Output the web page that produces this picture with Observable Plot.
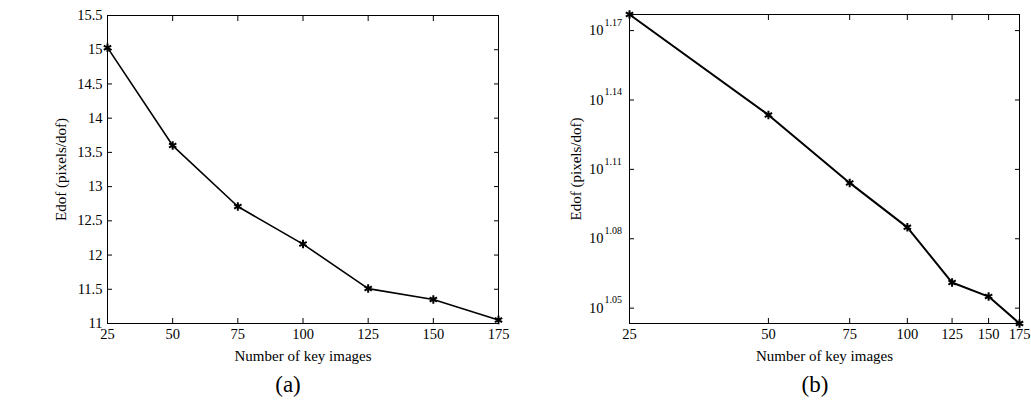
<!DOCTYPE html>
<html><head><meta charset="utf-8">
<script src="https://cdn.jsdelivr.net/npm/d3@7"></script>
<script src="https://cdn.jsdelivr.net/npm/@observablehq/plot@0.6"></script>
<style>
body{margin:0;background:#fff;font-family:"Liberation Serif",serif;}
#wrap{position:relative;width:1031px;height:400px;overflow:hidden;}
.panel{position:absolute;top:0;}
.panel svg, .panel svg text{font-family:"Liberation Serif","Times New Roman",serif !important;}
.panel svg g[aria-label="x-axis label"], .panel svg g[aria-label="y-axis label"]{font-size:15px;}
.panel svg g[aria-label="x-axis tick label"], .panel svg g[aria-label="y-axis tick label"]{font-size:14.5px;}
.cap{position:absolute;top:373px;font-size:23px;color:#000;transform:translateX(-50%);line-height:1;}
</style></head><body>
<div id="wrap">
  <div class="panel" id="pa" style="left:0px"></div>
  <div class="panel" id="pb" style="left:515px"></div>
  <div class="cap" style="left:288px">(a)</div>
  <div class="cap" style="left:815px">(b)</div>
</div>
<script>
const keyImages = [25, 50, 75, 100, 125, 150, 175];
const edof = [15.03, 13.60, 12.71, 12.16, 11.51, 11.35, 11.05];
const xTicks = [25, 50, 75, 100, 125, 150, 175];
const yTicksA = [11, 11.5, 12, 12.5, 13, 13.5, 14, 14.5, 15, 15.5];
const yExpB = [1.05, 1.08, 1.11, 1.14, 1.17];
const xLabel = "Number of key images";
const yLabel = "Edof (pixels/dof)";

const data = keyImages.map((k, i) => ({k, e: edof[i]}));
const style = {fontFamily: "Liberation Serif", fontSize: "14px", color: "#000", background: "transparent", overflow: "visible"};

const chartA = Plot.plot({
  width: 515, height: 370,
  marginLeft: 107, marginRight: 17, marginTop: 15, marginBottom: 47,
  style,
  x: {domain: [25, 175]},
  y: {domain: [11, 15.5]},
  marks: [
    Plot.frame({stroke: "#000"}),
    Plot.axisX({ticks: xTicks, tickSize: -5, tickPadding: 10, tickFormat: d => String(d), fontSize: 14,
      label: xLabel, labelAnchor: "center", labelArrow: "none", labelOffset: 37}),
    Plot.axisX({anchor: "top", ticks: xTicks, tickSize: -5, tickFormat: () => "", label: null}),
    Plot.axisY({ticks: yTicksA, tickSize: -5, tickPadding: 10, tickFormat: d => String(d), fontSize: 14,
      label: yLabel, labelAnchor: "center", labelArrow: "none", labelOffset: 52}),
    Plot.axisY({anchor: "right", ticks: yTicksA, tickSize: -5, tickFormat: () => "", label: null}),
    Plot.line(data, {x: "k", y: "e", stroke: "#000", strokeWidth: 1.6}),
    Plot.dot(data, {x: "k", y: "e", symbol: "asterisk", r: 4, stroke: "#000", strokeWidth: 2})
  ]
});
document.getElementById("pa").append(chartA);

const yTicksB = yExpB.map(e => Math.pow(10, e));
const chartB = Plot.plot({
  width: 516, height: 370,
  marginLeft: 114, marginRight: 12, marginTop: 14, marginBottom: 47,
  style,
  x: {type: "log", domain: [25, 175]},
  y: {type: "log", domain: d3.extent(edof)},
  marks: [
    Plot.frame({stroke: "#000"}),
    Plot.axisX({ticks: xTicks, tickSize: -5, tickPadding: 10, tickFormat: d => String(d), fontSize: 14,
      label: xLabel, labelAnchor: "center", labelArrow: "none", labelOffset: 37}),
    Plot.axisX({anchor: "top", ticks: xTicks, tickSize: -5, tickFormat: () => "", label: null}),
    Plot.axisY({ticks: yTicksB, tickSize: -5, tickPadding: 31, tickFormat: () => "10", fontSize: 14,
      label: yLabel, labelAnchor: "center", labelArrow: "none", labelOffset: 59}),
    Plot.text(yExpB, {y: e => Math.pow(10, e), text: e => e.toFixed(2), frameAnchor: "left",
      textAnchor: "start", dx: -25, dy: -8, fontSize: 10, fill: "#000"}),
    Plot.axisY({anchor: "right", ticks: yTicksB, tickSize: -5, tickFormat: () => "", label: null}),
    Plot.line(data, {x: "k", y: "e", stroke: "#000", strokeWidth: 2}),
    Plot.dot(data, {x: "k", y: "e", symbol: "asterisk", r: 4, stroke: "#000", strokeWidth: 2})
  ]
});
document.getElementById("pb").append(chartB);
</script>
</body></html>
